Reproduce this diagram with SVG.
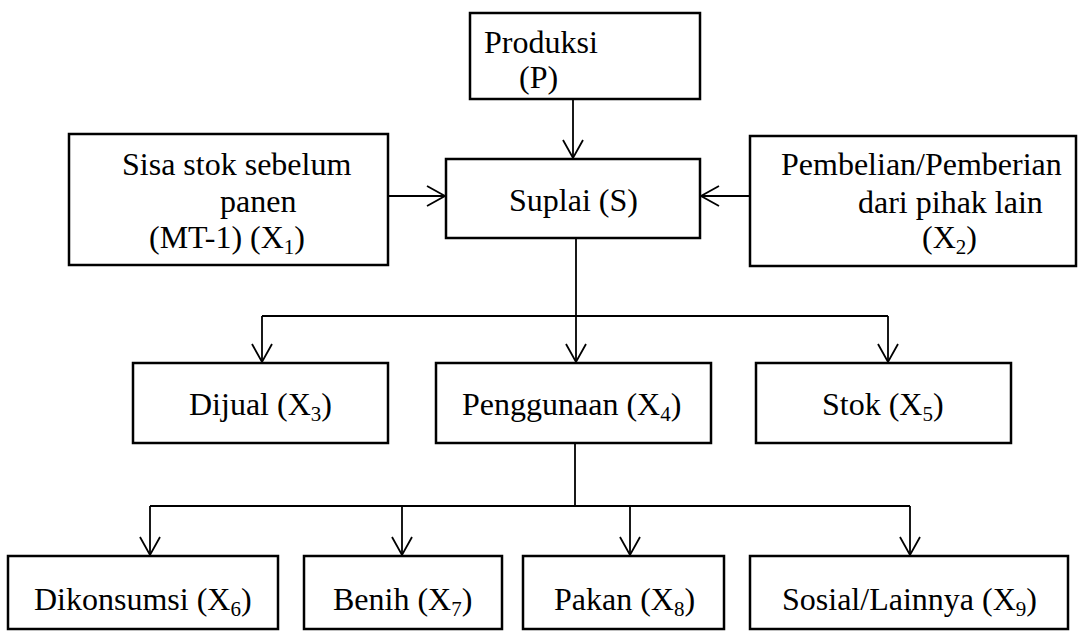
<svg xmlns="http://www.w3.org/2000/svg" width="1092" height="631" viewBox="0 0 1092 631">
<style>
.box{fill:#fff;stroke:#000;stroke-width:2.5}
.t{font-family:'Liberation Serif','Times New Roman',serif;font-size:32px;fill:#000}
.sub{font-size:21px}
.ln{fill:none;stroke:#000;stroke-width:1.8}
</style>
<defs>
<marker id="ah" viewBox="-20 -12 22 24" refX="0" refY="0" markerWidth="22" markerHeight="24" markerUnits="userSpaceOnUse" orient="auto" overflow="visible">
<path d="M-18,-10 L0,0 L-18,10" fill="none" stroke="#000" stroke-width="1.8"/>
</marker>
</defs>
<rect width="1092" height="631" fill="#fff"/>
<g id="connectors">
<line class="ln" x1="573" y1="99" x2="573" y2="158" marker-end="url(#ah)"/>
<line class="ln" x1="388" y1="196" x2="445" y2="196" marker-end="url(#ah)"/>
<line class="ln" x1="750" y1="196" x2="701" y2="196" marker-end="url(#ah)"/>
<line class="ln" x1="576" y1="238" x2="576" y2="316"/>
<line class="ln" x1="262" y1="316" x2="888" y2="316"/>
<line class="ln" x1="262" y1="316" x2="262" y2="362" marker-end="url(#ah)"/>
<line class="ln" x1="576" y1="316" x2="576" y2="362" marker-end="url(#ah)"/>
<line class="ln" x1="888" y1="316" x2="888" y2="362" marker-end="url(#ah)"/>
<line class="ln" x1="575" y1="443" x2="575" y2="506"/>
<line class="ln" x1="150" y1="506" x2="910" y2="506"/>
<line class="ln" x1="150" y1="506" x2="150" y2="555" marker-end="url(#ah)"/>
<line class="ln" x1="402" y1="506" x2="402" y2="555" marker-end="url(#ah)"/>
<line class="ln" x1="630" y1="506" x2="630" y2="555" marker-end="url(#ah)"/>
<line class="ln" x1="910" y1="506" x2="910" y2="555" marker-end="url(#ah)"/>
</g>
<g id="produksi">
<rect class="box" x="470" y="13" width="230" height="86"/>
<text class="t" x="484" y="53">Produksi</text>
<text class="t" x="519" y="88">(P)</text>
</g>
<g id="sisa">
<rect class="box" x="69" y="134" width="319" height="131"/>
<text class="t" x="122" y="175">Sisa stok sebelum</text>
<text class="t" x="220" y="212">panen</text>
<text class="t" x="149" y="248">(MT-1) (X<tspan class="sub" dy="6">1</tspan><tspan dy="-6">)</tspan></text>
</g>
<g id="suplai">
<rect class="box" x="446" y="159" width="254" height="79"/>
<text class="t" x="509" y="211">Suplai (S)</text>
</g>
<g id="pembelian">
<rect class="box" x="750" y="136" width="326" height="130"/>
<text class="t" x="781" y="175">Pembelian/Pemberian</text>
<text class="t" x="858" y="213">dari pihak lain</text>
<text class="t" x="922" y="248">(X<tspan class="sub" dy="6">2</tspan><tspan dy="-6">)</tspan></text>
</g>
<g id="dijual">
<rect class="box" x="133" y="363" width="255" height="80"/>
<text class="t" x="189" y="415">Dijual (X<tspan class="sub" dy="6">3</tspan><tspan dy="-6">)</tspan></text>
</g>
<g id="penggunaan">
<rect class="box" x="436" y="363" width="275" height="80"/>
<text class="t" x="462" y="415">Penggunaan (X<tspan class="sub" dy="6">4</tspan><tspan dy="-6">)</tspan></text>
</g>
<g id="stok">
<rect class="box" x="756" y="363" width="255" height="80"/>
<text class="t" x="822" y="415">Stok (X<tspan class="sub" dy="6">5</tspan><tspan dy="-6">)</tspan></text>
</g>
<g id="dikonsumsi">
<rect class="box" x="8" y="556" width="270" height="73"/>
<text class="t" x="34" y="610">Dikonsumsi (X<tspan class="sub" dy="6">6</tspan><tspan dy="-6">)</tspan></text>
</g>
<g id="benih">
<rect class="box" x="304" y="556" width="198" height="73"/>
<text class="t" x="333" y="610">Benih (X<tspan class="sub" dy="6">7</tspan><tspan dy="-6">)</tspan></text>
</g>
<g id="pakan">
<rect class="box" x="523" y="556" width="201" height="73"/>
<text class="t" x="554" y="610">Pakan (X<tspan class="sub" dy="6">8</tspan><tspan dy="-6">)</tspan></text>
</g>
<g id="sosial">
<rect class="box" x="750" y="556" width="318" height="73"/>
<text class="t" x="782" y="610">Sosial/Lainnya (X<tspan class="sub" dy="6">9</tspan><tspan dy="-6">)</tspan></text>
</g>
</svg>
